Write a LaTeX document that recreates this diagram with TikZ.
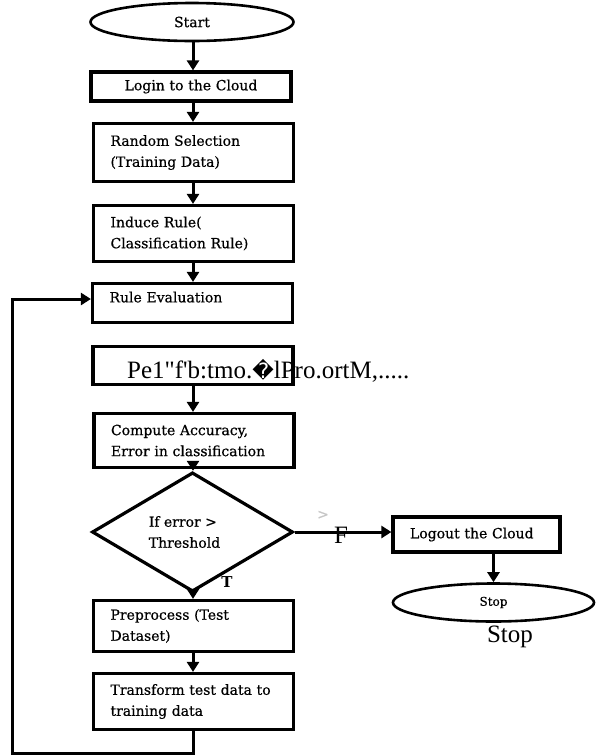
\documentclass[tikz,border=0pt]{standalone}
\usepackage{fontspec}
\setmainfont{DejaVu Serif}
\newfontfamily\boxfont{DejaVu Serif}[FakeBold=0.6]
\newfontfamily\timesf{Liberation Serif}
\newfontfamily\symf{DejaVu Sans}
\usetikzlibrary{shapes.geometric,arrows.meta}
\begin{document}
\begin{tikzpicture}[x=1pt,y=-1pt,
  every node/.style={font=\boxfont\fontsize{14}{21}\selectfont},
  procbox/.style={draw, line width=3.2pt, rectangle, align=left, inner xsep=17pt, inner ysep=0pt, text width=166pt, minimum height=#1},
  termin/.style={draw, line width=2.6pt, ellipse, inner sep=0pt},
  flow/.style={line width=3pt, -{Triangle[length=10pt,width=12pt]}},
  bigtxt/.style={font=\timesf\fontsize{25}{29}\selectfont, inner sep=0pt},
]
\useasboundingbox (0,0) rectangle (596,756);
\fill[white] (0,0) rectangle (596,756);
\coordinate (ax) at (193,0);
\coordinate (lb) at (12,753);
\coordinate (lt) at (12,299);

\node[termin, minimum width=203pt, minimum height=38pt] (start) at (192,22) {Start};
\node[procbox=29pt, align=center] (login) at (191,86.5) {Login to the Cloud};
\node[procbox=58pt] (random) at (193.5,152.5) {Random Selection\\(Training Data)};
\node[procbox=56pt] (induce) at (193.5,233.5) {Induce Rule(\\Classification Rule)};
\node[procbox=39pt, text depth=12pt] (ruleeval) at (192.5,303) {Rule Evaluation};
\node[procbox=38pt] (perf) at (193,365.5) {};
\node[bigtxt, anchor=base west] (perftxt) at (127,378) {Pe1\textquotedbl f\textquotesingle b:tmo.{\symf\fontsize{21}{25}\selectfont ^^^^fffd}lPro.ortM,.....};
\node[procbox=54pt] (compute) at (194,440.5) {Compute Accuracy,\\Error in classification};
\node[draw, diamond, line width=3.2pt, minimum width=201pt, minimum height=80pt, inner sep=0pt, align=left] (dec) at (192.5,532) {If error >\\Threshold\hspace*{16pt}};
\node[procbox=51pt] (pre) at (193.5,626) {Preprocess (Test\\Dataset)};
\node[procbox=56pt] (trans) at (193.5,701.5) {Transform test data to\\training data};
\node[procbox=35pt, text width=133pt] (logout) at (476.5,534.5) {Logout the Cloud};
\node[termin, minimum width=201pt, minimum height=38pt, font=\boxfont\fontsize{12}{14}\selectfont] (stop) at (493.5,602.5) {Stop};
\node[bigtxt] (stoplbl) at (510,637) {Stop};
\node[bigtxt] (flbl) at (341,535) {F};
\node[font=\fontsize{15}{18}\selectfont\bfseries] (tlbl) at (227,582) {T};
\node[text=gray!45] (faint) at (323,515) {>};

\draw[flow] (ax |- start.south) -- (ax |- login.north);
\draw[flow] (ax |- login.south) -- (ax |- random.north);
\draw[flow] (ax |- random.south) -- (ax |- induce.north);
\draw[flow] (ax |- induce.south) -- (ax |- ruleeval.north);
\draw[flow] (ax |- perf.south) -- (ax |- compute.north);
\draw[flow] (ax |- compute.south) -- (ax |- dec.north);
\draw[flow] (ax |- dec.south) -- (ax |- pre.north);
\draw[flow] (ax |- pre.south) -- (ax |- trans.north);
\draw[flow] (dec.east) -- (dec.east -| logout.west);
\draw[flow] (stop.north |- logout.south) -- (stop.north);
\draw[flow] (ax |- trans.south) -- (ax |- lb) -- (lb) -- (lt) -- (lt -| ruleeval.west);
\end{tikzpicture}
\end{document}
